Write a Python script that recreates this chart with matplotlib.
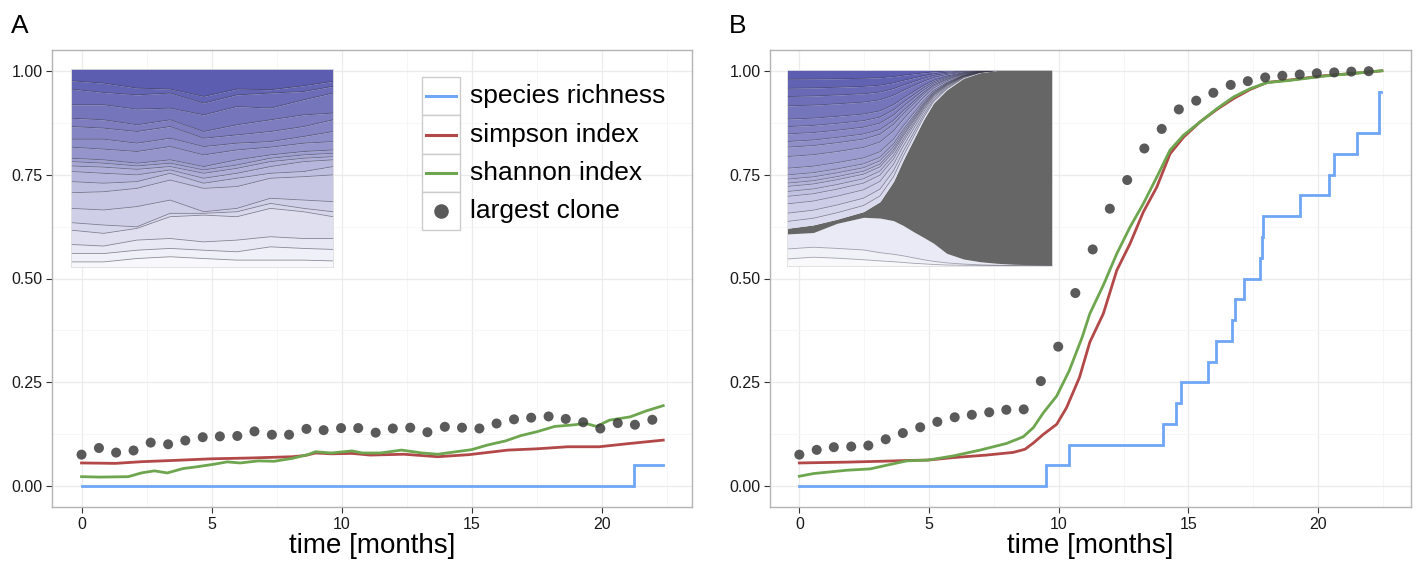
import numpy as np
import matplotlib
matplotlib.use("Agg")
import matplotlib.pyplot as plt
from matplotlib.patches import Rectangle
from matplotlib.lines import Line2D

plt.rcParams['font.family'] = ['Liberation Sans', 'DejaVu Sans']

# ---------------- data ----------------
dot_t = [0.0, 0.67, 1.33, 2.0, 2.66, 3.33, 3.99, 4.66, 5.32, 5.99, 6.65, 7.32,
         7.98, 8.65, 9.31, 9.98, 10.64, 11.31, 11.97, 12.64, 13.3, 13.97, 14.63,
         15.3, 15.96, 16.63, 17.29, 17.96, 18.62, 19.29, 19.95, 20.62, 21.28, 21.95]

# Panel A
A_clone = [0.076, 0.092, 0.081, 0.086, 0.105, 0.101, 0.110, 0.118, 0.120, 0.121,
           0.132, 0.124, 0.124, 0.138, 0.135, 0.140, 0.140, 0.129, 0.139, 0.141,
           0.130, 0.143, 0.141, 0.139, 0.151, 0.161, 0.165, 0.168, 0.162, 0.154,
           0.139, 0.152, 0.148, 0.160]
A_rich_t = [0.0, 21.25, 22.37]
A_rich = [0.0, 0.05, 0.05]
A_simp_t = [0, 0.7, 1.3, 2.3, 3.5, 5.0, 6.5, 8.1, 8.6, 9.0, 9.6, 10.4, 11.1, 12.4,
            13.7, 14.9, 16.4, 17.5, 18.7, 19.9, 21.1, 22.37]
A_simp = [0.056, 0.0555, 0.055, 0.059, 0.062, 0.066, 0.068, 0.071, 0.074, 0.080,
          0.078, 0.079, 0.075, 0.077, 0.071, 0.076, 0.087, 0.090, 0.095, 0.095,
          0.103, 0.111]
A_shan_t = [0, 0.7, 1.8, 2.3, 2.8, 3.3, 3.9, 4.4, 5.1, 5.6, 6.1, 6.8, 7.4, 8.1, 8.7,
            9.0, 9.6, 10.4, 10.8, 11.5, 12.3, 13.1, 13.7, 14.4, 15.0, 15.6, 16.3,
            16.9, 17.5, 18.2, 18.8, 19.4, 19.8, 20.3, 21.1, 21.7, 22.37]
A_shan = [0.023, 0.022, 0.023, 0.032, 0.037, 0.032, 0.0425, 0.0465, 0.053, 0.0586,
          0.056, 0.061, 0.060, 0.067, 0.076, 0.083, 0.080, 0.085, 0.080, 0.080,
          0.087, 0.080, 0.077, 0.083, 0.088, 0.099, 0.109, 0.122, 0.131, 0.144,
          0.147, 0.151, 0.144, 0.159, 0.167, 0.181, 0.194]

# Panel B
B_clone = [0.076, 0.0875, 0.094, 0.0955, 0.098, 0.113, 0.128, 0.142, 0.155, 0.166,
           0.172, 0.178, 0.184, 0.185, 0.253, 0.336, 0.465, 0.570, 0.668, 0.737,
           0.813, 0.860, 0.907, 0.928, 0.947, 0.966, 0.975, 0.984, 0.988, 0.991,
           0.994, 0.996, 0.998, 0.999]
B_rich_t = [0, 9.5, 10.4, 14.02, 14.53, 14.71, 15.74, 16.07, 16.68, 16.78, 17.13,
            17.77, 17.82, 17.88, 19.3, 20.4, 20.63, 21.48, 22.34, 22.42]
B_rich = [0.0, 0.05, 0.10, 0.15, 0.20, 0.25, 0.30, 0.35, 0.40, 0.45, 0.50, 0.55,
          0.60, 0.65, 0.70, 0.75, 0.80, 0.85, 0.95, 0.95]
B_simp_t = [0, 1.83, 3.11, 4.14, 4.97, 5.94, 7.22, 8.25, 8.7, 9.02, 9.41, 9.92, 10.3,
            10.8, 11.2, 11.72, 12.24, 12.75, 13.26, 13.78, 14.29, 14.81, 15.45, 16.1,
            16.74, 17.38, 18.03, 18.93, 20.21, 21.24, 22.46]
B_simp = [0.056, 0.058, 0.060, 0.062, 0.063, 0.069, 0.075, 0.0815, 0.089, 0.104,
          0.125, 0.149, 0.189, 0.262, 0.347, 0.4155, 0.52, 0.584, 0.66, 0.72, 0.80,
          0.84, 0.877, 0.907, 0.933, 0.955, 0.972, 0.978, 0.988, 0.993, 1.0]
B_shan_t = [0, 0.55, 1.83, 2.73, 3.37, 4.14, 4.97, 5.94, 6.97, 7.99, 8.63, 9.02, 9.41,
            9.92, 10.4, 10.9, 11.2, 11.72, 12.24, 12.75, 13.26, 13.78, 14.29, 14.81,
            15.45, 16.1, 16.74, 17.38, 18.03, 18.93, 20.21, 21.24, 22.46]
B_shan = [0.024, 0.0305, 0.0385, 0.0417, 0.0506, 0.061, 0.063, 0.073, 0.087, 0.103,
          0.119, 0.141, 0.177, 0.217, 0.2775, 0.358, 0.4155, 0.484, 0.56, 0.624, 0.68,
          0.744, 0.809, 0.845, 0.877, 0.909, 0.937, 0.957, 0.9715, 0.977, 0.987,
          0.993, 1.0]

# Inset A: clone boundaries (top to bottom), fraction of population
inA_u = [0, 0.124, 0.251, 0.378, 0.506, 0.633, 0.761, 0.888, 1.0]
inA_bounds = [
    [0.939, 0.927, 0.902, 0.897, 0.860, 0.897, 0.894, 0.914, 0.936],
    [0.897, 0.880, 0.868, 0.877, 0.826, 0.868, 0.877, 0.885, 0.911],
    [0.818, 0.818, 0.796, 0.801, 0.767, 0.809, 0.801, 0.843, 0.877],
    [0.750, 0.742, 0.717, 0.742, 0.683, 0.717, 0.742, 0.767, 0.776],
    [0.708, 0.700, 0.683, 0.708, 0.649, 0.666, 0.683, 0.708, 0.742],
    [0.644, 0.644, 0.624, 0.649, 0.607, 0.624, 0.632, 0.658, 0.683],
    [0.604, 0.594, 0.582, 0.607, 0.565, 0.590, 0.604, 0.624, 0.632],
    [0.548, 0.540, 0.523, 0.540, 0.506, 0.540, 0.565, 0.582, 0.590],
    [0.531, 0.523, 0.509, 0.523, 0.489, 0.514, 0.548, 0.565, 0.573],
    [0.509, 0.503, 0.492, 0.506, 0.472, 0.497, 0.531, 0.548, 0.556],
    [0.481, 0.472, 0.464, 0.489, 0.447, 0.472, 0.506, 0.531, 0.540],
    [0.430, 0.422, 0.430, 0.472, 0.422, 0.447, 0.472, 0.481, 0.506],
    [0.374, 0.379, 0.396, 0.438, 0.396, 0.405, 0.447, 0.455, 0.464],
    [0.295, 0.287, 0.304, 0.337, 0.278, 0.295, 0.346, 0.337, 0.329],
    [0.223, 0.211, 0.202, 0.270, 0.270, 0.278, 0.320, 0.295, 0.278],
    [0.185, 0.169, 0.194, 0.253, 0.261, 0.253, 0.295, 0.278, 0.253],
    [0.113, 0.105, 0.135, 0.143, 0.126, 0.135, 0.152, 0.143, 0.143],
    [0.067, 0.067, 0.084, 0.093, 0.084, 0.076, 0.101, 0.093, 0.088],
    [0.025, 0.025, 0.042, 0.051, 0.042, 0.034, 0.034, 0.034, 0.030],
]

# Inset B
inB_u = [0, 0.098, 0.187, 0.288, 0.350, 0.401, 0.438, 0.476, 0.514, 0.552, 0.602,
         0.665, 0.728, 0.791, 0.854, 1.0]
inB_grey_top = [0.191, 0.208, 0.237, 0.276, 0.327, 0.430, 0.540, 0.642, 0.744, 0.830,
                0.898, 0.957, 0.986, 0.997, 1.0, 1.0]
inB_grey_bot = [0.162, 0.169, 0.216, 0.247, 0.243, 0.230, 0.205, 0.174, 0.145, 0.115,
                0.063, 0.034, 0.020, 0.012, 0.007, 0.002]
inB_low1 = [0.085, 0.094, 0.088, 0.080, 0.066, 0.058, 0.050, 0.040, 0.030, 0.022,
            0.014, 0.008, 0.004, 0.002, 0.001, 0.0]
inB_low2 = [0.034, 0.043, 0.038, 0.030, 0.024, 0.020, 0.016, 0.012, 0.009, 0.006,
            0.003, 0.002, 0.001, 0.0, 0.0, 0.0]
# relative position of the other clones' boundaries within the space above the grey clone
inB_rel = [0.941, 0.884, 0.832, 0.773, 0.689, 0.642, 0.596, 0.548, 0.512, 0.453,
           0.379, 0.337, 0.310, 0.285, 0.264, 0.232, 0.201, 0.154, 0.095, 0.043]

# ---------------- styling ----------------
W, H = 1418, 561
fig = plt.figure(figsize=(W / 100, H / 100), dpi=100)


def axrect(l, r, t, b):
    return [l / W, 1 - b / H, (r - l) / W, (b - t) / H]


C_BLUE = '#6fa6f6'
C_RED = '#b24848'
C_GREEN = '#6ea64f'
C_DOT = '#3d3d3d'


def style(ax, xlim):
    ax.set_xlim(*xlim)
    ax.set_ylim(-0.05, 1.05)
    ax.set_xticks([0, 5, 10, 15, 20])
    ax.set_yticks([0, 0.25, 0.5, 0.75, 1.0])
    ax.set_yticklabels(['0.00', '0.25', '0.50', '0.75', '1.00'])
    ax.set_xticks([2.5, 7.5, 12.5, 17.5, 22.5], minor=True)
    ax.set_yticks([0.125, 0.375, 0.625, 0.875], minor=True)
    ax.grid(which='major', color='#ebebeb', lw=0.9)
    ax.grid(which='minor', color='#f5f5f5', lw=0.6)
    ax.set_axisbelow(True)
    for s in ax.spines.values():
        s.set_color('#b3b3b3')
        s.set_linewidth(1.0)
    ax.tick_params(which='major', length=4, width=0.8, color='#333333',
                   labelsize=11.5, labelcolor='#1a1a1a', pad=3)
    ax.tick_params(which='minor', length=0)
    ax.set_xlabel('time [months]', fontsize=20, va='center')
    ax.xaxis.set_label_coords(0.5, (507 - 546) / 457)


def gradient(n, c0, c1):
    c0 = np.array(c0, float)
    c1 = np.array(c1, float)
    return [tuple((c0 + (c1 - c0) * i / max(n - 1, 1)) / 255) for i in range(n)]


def draw_inset_A(ax):
    u = np.array(inA_u)
    bounds = [np.ones_like(u)] + [np.array(b) for b in inA_bounds] + [np.zeros_like(u)]
    cols = gradient(len(bounds) - 1, (92, 92, 176), (248, 248, 252))
    for i in range(len(bounds) - 1):
        ax.fill_between(u, bounds[i + 1], bounds[i], color=cols[i], lw=0)
    for b in inA_bounds:
        ax.plot(u, b, color='#3a3a4a', alpha=0.55, lw=0.6)


def draw_inset_B(ax):
    u = np.array(inB_u)
    gt = np.array(inB_grey_top)
    gb = np.array(inB_grey_bot)
    l1 = np.array(inB_low1)
    l2 = np.array(inB_low2)
    ax.fill_between(u, 0, l2, color='#f9f9fc', lw=0)
    ax.fill_between(u, l2, l1, color='#f1f1f8', lw=0)
    ax.fill_between(u, l1, gb, color='#e9eaf5', lw=0)
    ax.fill_between(u, gb, gt, color='#666666', lw=0)
    rel = [1.0] + list(inB_rel) + [0.0]
    bnds = [gt + r * (1 - gt) for r in rel]
    cols = gradient(len(bnds) - 1, (92, 92, 176), (218, 218, 238))
    for i in range(len(bnds) - 1):
        ax.fill_between(u, bnds[i + 1], bnds[i], color=cols[i], lw=0)
    for b in bnds[1:-1]:
        ax.plot(u, b, color='#3a3a4a', alpha=0.5, lw=0.6)
    for b in (l1, l2):
        ax.plot(u, b, color='#555566', alpha=0.5, lw=0.6)


def inset(ax, bounds, drawer):
    ia = ax.inset_axes(bounds, transform=ax.transData)
    ia.set_xlim(0, 1)
    ia.set_ylim(0, 1)
    ia.set_xticks([])
    ia.set_yticks([])
    for s in ia.spines.values():
        s.set_color('#dddddd')
        s.set_linewidth(0.6)
    drawer(ia)


def draw_panel(ax, rt, rv, st, sv, sht, shv, cv):
    ax.plot(rt, rv, color=C_BLUE, lw=2.0, drawstyle='steps-post', zorder=3,
            solid_joinstyle='miter')
    ax.plot(st, sv, color=C_RED, lw=2.0, zorder=3)
    ax.plot(sht, shv, color=C_GREEN, lw=2.0, zorder=3)
    ax.scatter(dot_t, cv, s=52, color=C_DOT, alpha=0.85, edgecolors='none', zorder=4)


axA = fig.add_axes(axrect(52.4, 692.4, 50, 507))
axB = fig.add_axes(axrect(770.2, 1411, 50, 507))
style(axA, (-1.12, 23.49))
style(axB, (-1.123, 23.58))

draw_panel(axA, A_rich_t, A_rich, A_simp_t, A_simp, A_shan_t, A_shan, A_clone)
draw_panel(axB, B_rich_t, B_rich, B_simp_t, B_simp, B_shan_t, B_shan, B_clone)

inset(axA, [-0.40, 0.528, 10.07, 0.477], draw_inset_A)
inset(axB, [-0.46, 0.531, 10.2, 0.471], draw_inset_B)

# panel letters
fig.text(11 / W, 1 - 33 / H, 'A', fontsize=19, ha='left', va='baseline')
fig.text(729 / W, 1 - 33 / H, 'B', fontsize=19, ha='left', va='baseline')

# legend (panel A)
legend_labels = ['species richness', 'simpson index', 'shannon index', 'largest clone']
row_top = 77.3
row_h = 38.2
kx0, kx1 = 422.3, 460.0
tr = fig.transFigure
for i, lab in enumerate(legend_labels):
    y0 = row_top + i * row_h
    fig.patches.append(Rectangle((kx0 / W, 1 - (y0 + row_h) / H), (kx1 - kx0) / W,
                                 row_h / H, transform=tr, facecolor='white',
                                 edgecolor='#cccccc', lw=1.0, zorder=10))
    yc = 1 - (y0 + row_h / 2) / H
    if i < 3:
        col = [C_BLUE, C_RED, C_GREEN][i]
        fig.lines.append(Line2D([426 / W, 456 / W], [yc, yc], transform=tr,
                                color=col, lw=2.2, zorder=11))
    else:
        fig.lines.append(Line2D([441 / W], [yc], transform=tr, marker='o', ms=10.5,
                                color=C_DOT, alpha=0.85, mec='none', zorder=11))
    fig.text(470 / W, yc, lab, fontsize=19, ha='left', va='center', zorder=11)

fig.savefig('out.png', dpi=100)
